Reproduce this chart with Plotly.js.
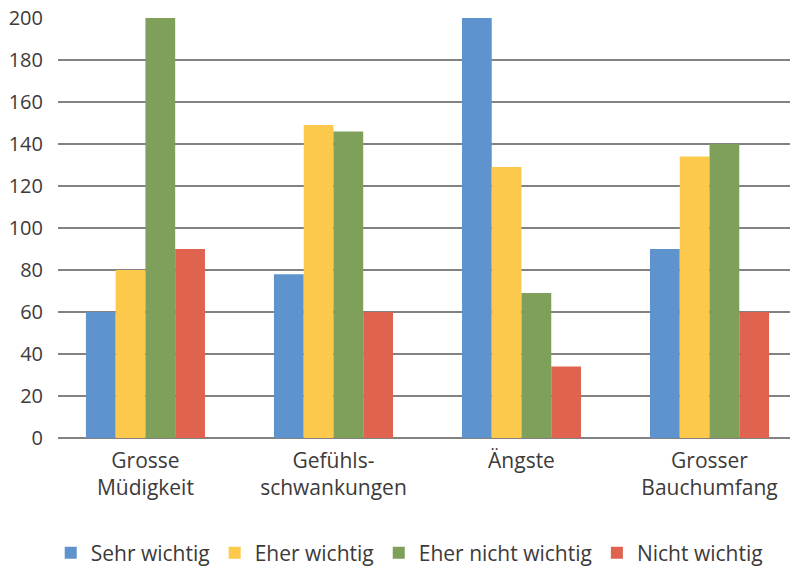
<!DOCTYPE html>
<html><head><meta charset="utf-8">
<script src="https://cdn.plot.ly/plotly-3.0.1.min.js"></script>
<style>html,body{margin:0;padding:0;background:#fff}#chart{width:790px;height:569px}</style>
</head><body><div id="chart"></div>
<script>
const categories = ["Grosse<br>Müdigkeit", "Gefühls-<br>schwankungen", "Ängste", "Grosser<br>Bauchumfang"];
const seriesNames = ["Sehr wichtig", "Eher wichtig", "Eher nicht wichtig", "Nicht wichtig"];
const sehrWichtig = [60, 78, 200, 90];
const eherWichtig = [80, 149, 129, 134];
const eherNichtWichtig = [200, 146, 69, 140];
const nichtWichtig = [90, 60, 34, 60];
const yTicks = [0, 20, 40, 60, 80, 100, 120, 140, 160, 180, 200];
const colors = ["#5e93cd", "#fdc94c", "#7ea05b", "#e0634f"];

const values = [sehrWichtig, eherWichtig, eherNichtWichtig, nichtWichtig];
const data = values.map((v, i) => ({
  type: "bar", x: categories, y: v, name: seriesNames[i],
  marker: {color: colors[i]}, hoverinfo: "skip"
}));
const font = {family: "Open Sans, sans-serif", size: 20, color: "#3d3a3a"};
const font21 = {family: "Open Sans, sans-serif", size: 21, color: "#3d3a3a"};
const layout = {
  width: 790, height: 569,
  margin: {l: 58, r: 0, t: 18, b: 131, autoexpand: false},
  paper_bgcolor: "#fff", plot_bgcolor: "#fff",
  font: font,
  barmode: "group", bargap: 0.367, bargroupgap: 0,
  showlegend: true,
  legend: {orientation: "h", xref: "container", yref: "container",
           x: 0.518, xanchor: "center", y: 0.028, yanchor: "middle",
           font: font21, traceorder: "normal"},
  xaxis: {range: [-0.465, 3.428], showgrid: false, zeroline: false, showline: false,
          ticks: "", tickfont: font21, ticklabelstandoff: 8, fixedrange: true, automargin: false},
  yaxis: {range: [0, 200], tickvals: yTicks, ticktext: yTicks.map(String),
          showgrid: true, gridcolor: "#858181", gridwidth: 1.4,
          zeroline: true, zerolinecolor: "#858181", zerolinewidth: 1.4,
          showline: false, ticks: "", tickfont: font, ticklabelstandoff: 14, fixedrange: true, automargin: false}
};
Plotly.newPlot("chart", data, layout, {displayModeBar: false, staticPlot: true});
</script></body></html>
